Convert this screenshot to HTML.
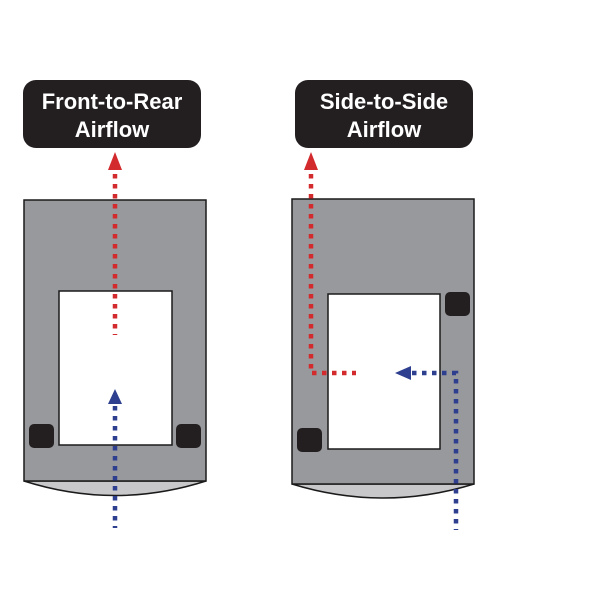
<!DOCTYPE html>
<html><head><meta charset="utf-8"><style>
html,body{margin:0;padding:0;background:#fff;width:600px;height:600px;overflow:hidden}
</style></head><body>
<svg width="600" height="600" viewBox="0 0 600 600" xmlns="http://www.w3.org/2000/svg">
<!-- Left cabinet -->
<path d="M24 481 Q115 510 206 481 Z" fill="#c8c8ca" stroke="#1a1a1a" stroke-width="1.5"/>
<rect x="24" y="200" width="182" height="281" fill="#98999c" stroke="#1a1a1a" stroke-width="1.5"/>
<rect x="59" y="291" width="113" height="154" fill="#fff" stroke="#1a1a1a" stroke-width="1.5"/>
<rect x="29" y="424" width="25" height="24" rx="5" fill="#231f20"/>
<rect x="176" y="424" width="25" height="24" rx="5" fill="#231f20"/>
<!-- Right cabinet -->
<path d="M292 484 Q383 512 474 484 Z" fill="#c8c8ca" stroke="#1a1a1a" stroke-width="1.5"/>
<rect x="292" y="199" width="182" height="285" fill="#98999c" stroke="#1a1a1a" stroke-width="1.5"/>
<rect x="328" y="294" width="112" height="155" fill="#fff" stroke="#1a1a1a" stroke-width="1.5"/>
<rect x="445" y="292" width="25" height="24" rx="5" fill="#231f20"/>
<rect x="297" y="428" width="25" height="24" rx="5" fill="#231f20"/>
<!-- Labels -->
<rect x="23" y="80" width="178" height="68" rx="13" fill="#231f20"/>
<text x="112" y="109" fill="#fff" font-family="Liberation Sans, sans-serif" font-weight="bold" font-size="22" text-anchor="middle">Front-to-Rear</text>
<text x="112" y="137" fill="#fff" font-family="Liberation Sans, sans-serif" font-weight="bold" font-size="22" text-anchor="middle">Airflow</text>
<rect x="295" y="80" width="178" height="68" rx="13" fill="#231f20"/>
<text x="384" y="109" fill="#fff" font-family="Liberation Sans, sans-serif" font-weight="bold" font-size="22" text-anchor="middle">Side-to-Side</text>
<text x="384" y="137" fill="#fff" font-family="Liberation Sans, sans-serif" font-weight="bold" font-size="22" text-anchor="middle">Airflow</text>
<!-- Left arrows -->
<line x1="115" y1="174" x2="115" y2="335" stroke="#d32a2e" stroke-width="4.5" stroke-dasharray="4.5 5.5"/>
<polygon points="115,152 108,170 122,170" fill="#d32a2e"/>
<line x1="115" y1="406" x2="115" y2="528" stroke="#2e3f8f" stroke-width="4.5" stroke-dasharray="4.5 5.5"/>
<polygon points="115,389 108,404 122,404" fill="#2e3f8f"/>
<!-- Right arrows -->
<polyline points="311,174 311,373 356,373" fill="none" stroke="#d32a2e" stroke-width="4.5" stroke-dasharray="4.5 5.5"/>
<polygon points="311,152 304,170 318,170" fill="#d32a2e"/>
<polyline points="412,373 456,373 456,530" fill="none" stroke="#2e3f8f" stroke-width="4.5" stroke-dasharray="4.5 5.5"/>
<polygon points="395,373 411,366 411,380" fill="#2e3f8f"/>
</svg>
</body></html>
